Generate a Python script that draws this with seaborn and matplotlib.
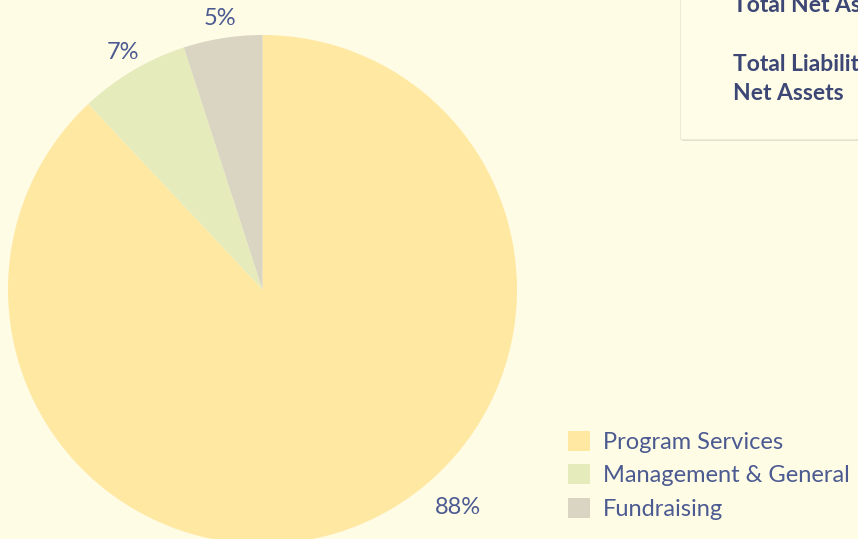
import matplotlib
matplotlib.use("Agg")
import matplotlib.pyplot as plt
import matplotlib.patches as mpatches
import seaborn as sns

# expense breakdown
categories = ["Program Services", "Management & General", "Fundraising"]
shares = [88, 7, 5]
colors = ["#FFE8A2", "#E5EBBA", "#D9D5C2"]
box_lines = ["Total Net Assets", "Total Liabilities &", "Net Assets"]

BG = "#FFFCE6"
NAVY = "#3C4775"
SLATE = "#4B5A90"

sns.set_theme(style="white")
plt.rcParams["font.family"] = ["Lato", "DejaVu Sans"]

fig = plt.figure(figsize=(8.58, 5.39), dpi=100)
fig.patch.set_facecolor(BG)

# pie axes: centre ~ (262, 290) px, radius ~254 px
W, H = 858, 539
r = 254.5
cx, cy = 262.5, 539 - 289.5
ax = fig.add_axes([(cx - r) / W, (cy - r) / H, 2 * r / W, 2 * r / H])
ax.set_facecolor("none")

wedges, texts = ax.pie(
    shares,
    labels=[f"{v}%" for v in shares],
    colors=colors,
    startangle=90,
    counterclock=False,
    labeldistance=1.08,
    wedgeprops=dict(linewidth=0),
    textprops=dict(color=SLATE, fontsize=17),
)
for t in texts:
    t.set_ha("center")
texts[0].set_position((0.768, -0.855))
ax.set_xlim(-1, 1)
ax.set_ylim(-1, 1)
ax.axis("off")

# legend
fig.legend(
    wedges, categories,
    loc="upper left", bbox_to_anchor=(563 / W, 1 - 426 / H),
    frameon=False, fontsize=17, labelcolor=SLATE,
    handlelength=0.95, handleheight=0.95, handletextpad=0.55,
    labelspacing=0.47, borderpad=0.2, borderaxespad=0,
)

# partially visible summary box at top right
shadow = mpatches.Rectangle((682 / W, 1 - 141 / H), 1, 1, transform=fig.transFigure,
                            facecolor="#E3DFCC", edgecolor="none", zorder=0)
box = mpatches.Rectangle((680 / W, 1 - 139 / H), 1, 1, transform=fig.transFigure,
                         facecolor="#FFFDE8", edgecolor="#EEEAD6", linewidth=0.8, zorder=1)
fig.patches.extend([shadow, box])
for line, base in zip(box_lines, [12, 71, 100]):
    fig.text(733 / W, 1 - base / H, line, fontsize=16.5, fontweight="bold",
             color=NAVY, va="baseline", ha="left")

fig.savefig("out.png", dpi=100, facecolor=BG)
